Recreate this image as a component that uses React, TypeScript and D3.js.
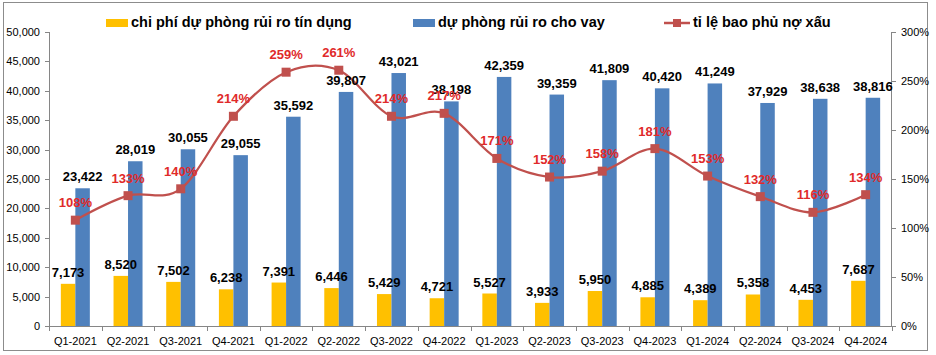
import React from "react";
import * as d3 from "d3";

const categories = ["Q1-2021","Q2-2021","Q3-2021","Q4-2021","Q1-2022","Q2-2022","Q3-2022","Q4-2022","Q1-2023","Q2-2023","Q3-2023","Q4-2023","Q1-2024","Q2-2024","Q3-2024","Q4-2024"];
const provisionExpense = [7173,8520,7502,6238,7391,6446,5429,4721,5527,3933,5950,4885,4389,5358,4453,7687];
const loanLossReserve = [23422,28019,30055,29055,35592,39807,43021,38198,42359,39359,41809,40420,41249,37929,38638,38816];
const nplCoverage = [108,133,140,214,259,261,214,217,171,152,158,181,153,132,116,134];
const leftTicks = [0,5000,10000,15000,20000,25000,30000,35000,40000,45000,50000];
const rightTicks = [0,50,100,150,200,250,300];
const legendLabels = ["chi phí dự phòng rủi ro tín dụng","dự phòng rủi ro cho vay","tỉ lệ bao phủ nợ xấu"];

const W = 936, H = 355;
const FONT = "'Liberation Sans', Arial, sans-serif";
const ORANGE = "#FFC000", BLUE = "#4F81BD", LINE = "#C0504D", RED = "#E02A2A", AXIS = "#868686";

export default function App() {
  const x = d3.scaleBand<string>().domain(categories).range([49, 892]).padding(0);
  const yL = d3.scaleLinear().domain([0, 50000]).range([326, 32]);
  const yR = d3.scaleLinear().domain([0, 300]).range([326, 32]);
  const bw = 14.5;
  const cx = (c: string) => (x(c) as number) + x.bandwidth() / 2;
  const fmt = d3.format(",");
  const line = d3.line<number>()
    .x((_, i) => cx(categories[i]))
    .y((d) => yR(d))
    .curve(d3.curveCardinal.tension(0));

  return (
    <svg width={W} height={H} style={{ position: "absolute", left: 0, top: 0, background: "#fff" }} fontFamily={FONT}>
      <rect x={3.5} y={2.5} width={924} height={348} fill="#fff" stroke="#8c8c8c" strokeWidth={1} />

      {/* Legend */}
      <g fontSize={14.5} fontWeight="bold" fill="#000">
        <rect x={106} y={19} width={22} height={8} fill={ORANGE} />
        <text x={131} y={27}>{legendLabels[0]}</text>
        <rect x={413} y={19} width={22} height={8} fill={BLUE} />
        <text x={438} y={27}>{legendLabels[1]}</text>
        <line x1={664} x2={690} y1={23} y2={23} stroke={LINE} strokeWidth={2.5} />
        <rect x={673} y={19} width={8} height={8} fill={LINE} />
        <text x={693} y={27}>{legendLabels[2]}</text>
      </g>

      {/* Bars */}
      {categories.map((c, i) => (
        <g key={c}>
          <rect x={cx(c) - bw} y={yL(provisionExpense[i])} width={bw} height={yL(0) - yL(provisionExpense[i])} fill={ORANGE} />
          <rect x={cx(c)} y={yL(loanLossReserve[i])} width={bw} height={yL(0) - yL(loanLossReserve[i])} fill={BLUE} />
        </g>
      ))}

      {/* Axes */}
      <g stroke={AXIS} strokeWidth={1} fill="none">
        <line x1={49.5} x2={49.5} y1={32} y2={326} />
        <line x1={891.5} x2={891.5} y1={32} y2={326} />
        <line x1={49} x2={892} y1={326.5} y2={326.5} />
        {leftTicks.map((t) => (
          <line key={"l" + t} x1={45} x2={49.5} y1={Math.round(yL(t)) + 0.5} y2={Math.round(yL(t)) + 0.5} />
        ))}
        {rightTicks.map((t) => (
          <line key={"r" + t} x1={891.5} x2={896} y1={Math.round(yR(t)) + 0.5} y2={Math.round(yR(t)) + 0.5} />
        ))}
        {categories.concat([""]).map((c, i) => {
          const xx = Math.round(49 + i * x.bandwidth()) + 0.5;
          return <line key={"x" + i} x1={xx} x2={xx} y1={326.5} y2={331} />;
        })}
      </g>
      <g fontSize={11} fill="#000">
        {leftTicks.map((t) => (
          <text key={"lt" + t} x={40} y={yL(t) + 4} textAnchor="end">{fmt(t)}</text>
        ))}
        {rightTicks.map((t) => (
          <text key={"rt" + t} x={901} y={yR(t) + 4}>{t + "%"}</text>
        ))}
        {categories.map((c) => (
          <text key={"xt" + c} x={cx(c)} y={345} textAnchor="middle">{c}</text>
        ))}
      </g>

      {/* Line */}
      <path d={line(nplCoverage) || ""} fill="none" stroke={LINE} strokeWidth={2.25} />
      {nplCoverage.map((v, i) => (
        <rect key={"m" + i} x={cx(categories[i]) - 4.5} y={yR(v) - 4.5} width={9} height={9} fill={LINE} />
      ))}

      {/* Data labels */}
      <g fontSize={13} fontWeight="bold" textAnchor="middle">
        {categories.map((c, i) => (
          <g key={"lab" + c}>
            <text x={cx(c) - bw / 2} y={yL(provisionExpense[i]) - 7} fill="#000">{fmt(provisionExpense[i])}</text>
            <text x={cx(c) + bw / 2} y={yL(loanLossReserve[i]) - 7} fill="#000">{fmt(loanLossReserve[i])}</text>
            <text x={cx(c)} y={yR(nplCoverage[i]) - 13} fill={RED}>{nplCoverage[i] + "%"}</text>
          </g>
        ))}
      </g>
    </svg>
  );
}
